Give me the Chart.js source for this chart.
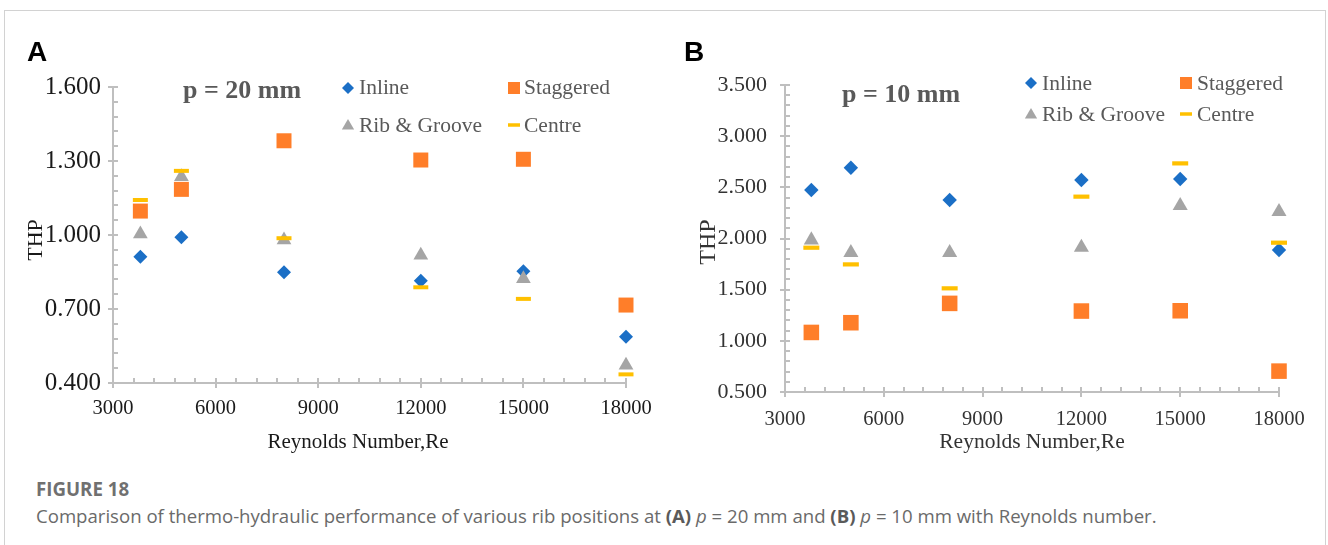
<!DOCTYPE html>
<html>
<head>
<meta charset="utf-8">
<script src="https://cdn.jsdelivr.net/npm/chart.js@4.4.1/dist/chart.umd.min.js"></script>
<style>
  html, body { margin: 0; padding: 0; background: #fff; }
  #page { position: relative; width: 1328px; height: 545px; overflow: hidden; background: #fff; }
  .frame { position: absolute; left: 4px; top: 10px; width: 1322px; height: 600px;
           border: 1px solid #d2d2d2; box-sizing: border-box; }
  canvas { position: absolute; top: 0; }
  .t { position: absolute; white-space: nowrap; }
  .serif { font-family: 'Liberation Serif', 'Times New Roman', serif; }
  .panel { font-family: 'Liberation Sans', Arial, sans-serif; font-weight: 700; font-size: 28px;
           line-height: 28px; color: #000; }
  .pitch { font-weight: 700; font-size: 26px; line-height: 26px; color: #595959; }
  .xtitle { font-size: 21px; line-height: 21px; transform: translateX(-50%); }
  .ytitle { transform: translate(-50%, -50%) rotate(-90deg); }
  .fig { font-family: 'Open Sans', 'Noto Sans', sans-serif; font-weight: 700; font-size: 18.7px;
         line-height: 18.7px; color: #707070; }
  .cap { font-family: 'Open Sans', 'Noto Sans', sans-serif; font-size: 18.6px; line-height: 18.6px;
         color: #6a6a6a; }
  .cap b { color: #5a5a5a; }
</style>
</head>
<body>
<div id="page">
  <div class="frame"></div>
  <canvas id="chartA" width="664" height="470" style="left:0px"></canvas>
  <canvas id="chartB" width="664" height="470" style="left:664px"></canvas>

  <div class="t panel" style="left:27px; top:38px;">A</div>
  <div class="t panel" style="left:684px; top:38px;">B</div>

  <div class="t serif pitch" style="left:183px; top:77px;">p = 20 mm</div>
  <div class="t serif pitch" style="left:842px; top:81px;">p = 10 mm</div>

  <div class="t serif xtitle" style="left:358px; top:431px; color:#1a1a1a;">Reynolds Number,Re</div>
  <div class="t serif xtitle" style="left:1032px; top:431px; color:#333; font-size:21.5px;">Reynolds Number,Re</div>

  <div class="t serif ytitle" style="left:35px; top:240px; font-size:22px; line-height:22px; color:#1a1a1a;">THP</div>
  <div class="t serif ytitle" style="left:707px; top:242px; font-size:24px; line-height:24px; color:#333;">THP</div>

  <div class="t fig" style="left:36px; top:480px;">FIGURE 18</div>
  <div class="t cap" style="left:36px; top:506.5px;">Comparison of thermo-hydraulic performance of various rib positions at <b>(A)</b> <i>p</i> = 20 mm and <b>(B)</b> <i>p</i> = 10 mm with Reynolds number.</div>
</div>

<script>
// Reynolds numbers tested
const reynolds = [3800, 5000, 8000, 12000, 15000, 18000];
const seriesNames = ['Inline', 'Staggered', 'Rib & Groove', 'Centre'];

// Thermo-hydraulic performance, rib pitch p = 20 mm
const inline20    = [0.912, 0.991, 0.849, 0.815, 0.853, 0.588];
const staggered20 = [1.097, 1.185, 1.382, 1.304, 1.307, 0.716];
const ribGroove20 = [1.004, 1.236, 0.980, 0.918, 0.823, 0.472];
const centre20    = [1.142, 1.260, 0.987, 0.788, 0.741, 0.435];

// Thermo-hydraulic performance, rib pitch p = 10 mm
const inline10    = [2.474, 2.692, 2.376, 2.571, 2.581, 1.887];
const staggered10 = [1.082, 1.177, 1.366, 1.291, 1.294, 0.704];
const ribGroove10 = [1.985, 1.861, 1.861, 1.913, 2.320, 2.262];
const centre10    = [1.910, 1.747, 1.513, 2.409, 2.734, 1.959];

// Axis tick labels
const xTickLabels   = ['3000', '6000', '9000', '12000', '15000', '18000'];
const yTickLabels20 = ['0.400', '0.700', '1.000', '1.300', '1.600'];
const yTickLabels10 = ['0.500', '1.000', '1.500', '2.000', '2.500', '3.000', '3.500'];

const AXIS = '#bfbfbf';
const SERIF = "'Liberation Serif', 'Times New Roman', serif";
const STYLES = [
  { color: '#1b6fc6', pointStyle: 'rectRot' },
  { color: '#ff7e29', pointStyle: 'rect' },
  { color: '#a5a5a5', pointStyle: 'triangle' },
  { color: '#ffc000', pointStyle: 'line' }
];

const isLabelled = (labels, v) => labels.some(l => Math.abs(parseFloat(l) - v) < 1e-6);
const labelFor = (labels, v) => {
  const hit = labels.find(l => Math.abs(parseFloat(l) - v) < 1e-6);
  return hit === undefined ? '' : hit;
};

// small tick marks pointing into the plot area at every minor step
const innerTicks = {
  id: 'innerTicks',
  beforeDatasetsDraw(chart, args, opts) {
    const { ctx, chartArea } = chart;
    const xs = chart.scales.x, ys = chart.scales.y;
    ctx.save();
    ctx.strokeStyle = opts.color;
    ctx.lineWidth = opts.width;
    ctx.beginPath();
    xs.ticks.forEach(t => {
      const px = Math.round(xs.getPixelForValue(t.value));
      ctx.moveTo(px, chartArea.bottom);
      ctx.lineTo(px, chartArea.bottom - opts.length);
    });
    ys.ticks.forEach(t => {
      const py = Math.round(ys.getPixelForValue(t.value));
      ctx.moveTo(chartArea.left, py);
      ctx.lineTo(chartArea.left + opts.length, py);
    });
    ctx.stroke();
    ctx.restore();
  }
};

// two-column legend placed inside the plot area
const gridLegend = {
  id: 'gridLegend',
  afterDraw(chart, args, opts) {
    const ctx = chart.ctx;
    ctx.save();
    chart.data.datasets.forEach((ds, i) => {
      const slot = opts.slots[i];
      ctx.fillStyle = ds.pointBackgroundColor;
      ctx.strokeStyle = ds.pointBorderColor;
      ctx.lineWidth = slot.bw;
      Chart.helpers.drawPoint(ctx, {
        pointStyle: ds.pointStyle, rotation: 0, radius: slot.r, borderWidth: slot.bw
      }, slot.mx, slot.my);
      ctx.font = opts.font;
      ctx.fillStyle = opts.color;
      ctx.textAlign = 'left';
      ctx.textBaseline = 'alphabetic';
      ctx.fillText(ds.label, slot.tx, slot.ty);
    });
    ctx.restore();
  }
};

function buildDatasets(seriesValues, sizes) {
  return seriesValues.map((vals, i) => {
    const st = STYLES[i];
    const isDash = st.pointStyle === 'line';
    return {
      label: seriesNames[i],
      data: reynolds.map((re, k) => ({ x: re, y: vals[k] })),
      showLine: false,
      clip: false,
      pointStyle: st.pointStyle,
      pointRadius: sizes[i],
      pointHoverRadius: sizes[i],
      pointBackgroundColor: st.color,
      pointBorderColor: st.color,
      pointBorderWidth: isDash ? sizes.dash : 0,
      order: 4 - i
    };
  });
}

function axisOptions(labels, minorStep, fontSize, color, pad, fitSize, isX) {
  return {
    type: 'linear',
    min: parseFloat(labels[0]),
    max: parseFloat(labels[labels.length - 1]),
    afterFit(scale) { if (isX) scale.height = fitSize; else scale.width = fitSize; },
    ticks: {
      stepSize: minorStep,
      autoSkip: false,
      maxRotation: 0,
      padding: pad,
      color: color,
      font: { family: SERIF, size: fontSize },
      callback: (v) => labelFor(labels, v)
    },
    grid: {
      drawOnChartArea: false,
      drawTicks: true,
      tickLength: 5,
      tickWidth: 2,
      lineWidth: 2,
      color: AXIS,
      tickColor: (c) => (c.tick && isLabelled(labels, c.tick.value)) ? AXIS : 'rgba(0,0,0,0)'
    },
    border: { display: true, color: AXIS, width: 2 }
  };
}

function makeChart(id, cfg) {
  return new Chart(document.getElementById(id), {
    type: 'scatter',
    data: { datasets: buildDatasets(cfg.series, cfg.sizes) },
    options: {
      responsive: false,
      animation: false,
      devicePixelRatio: 1,
      layout: { padding: cfg.padding },
      plugins: {
        legend: { display: false },
        tooltip: { enabled: false },
        innerTicks: { color: AXIS, width: 2, length: 5 },
        gridLegend: { font: "21.5px " + SERIF, color: '#595959', slots: cfg.legendSlots }
      },
      scales: {
        x: axisOptions(xTickLabels, 600, cfg.xFont, cfg.tickColor, cfg.xPad, cfg.xFit, true),
        y: axisOptions(cfg.yLabels, cfg.yMinor, cfg.yFont, cfg.tickColor, cfg.yPad, 100, false)
      }
    },
    plugins: [innerTicks, gridLegend]
  });
}

const sizesA = Object.assign([7, 10.6, 8.5, 7.5], { dash: 4 });
const sizesB = Object.assign([7.2, 11, 8.7, 8], { dash: 4.2 });

makeChart('chartA', {
  series: [inline20, staggered20, ribGroove20, centre20],
  sizes: sizesA,
  yLabels: yTickLabels20, yMinor: 0.06,
  xFont: 20.5, yFont: 25, tickColor: '#1a1a1a',
  xPad: 8, yPad: 7, xFit: 80,
  padding: { left: 13, right: 38, top: 87, bottom: 7 },
  legendSlots: [
    { mx: 348, my: 88,  r: 6,   bw: 0,   tx: 359, ty: 94 },
    { mx: 514, my: 88,  r: 8.5, bw: 0,   tx: 524, ty: 94 },
    { mx: 348, my: 126, r: 7.1, bw: 0,   tx: 359, ty: 131.5 },
    { mx: 514, my: 125, r: 6,   bw: 3.5, tx: 524, ty: 131.5 }
  ]
});

makeChart('chartB', {
  series: [inline10, staggered10, ribGroove10, centre10],
  sizes: sizesB,
  yLabels: yTickLabels10, yMinor: 0.1,
  xFont: 20.5, yFont: 22, tickColor: '#333333',
  xPad: 10, yPad: 13, xFit: 70,
  padding: { left: 21, right: 49, top: 85, bottom: 8 },
  legendSlots: [
    { mx: 367, my: 83,  r: 6,   bw: 0,   tx: 378, ty: 90 },
    { mx: 522, my: 83,  r: 8.5, bw: 0,   tx: 533, ty: 90 },
    { mx: 367, my: 115, r: 7.1, bw: 0,   tx: 378, ty: 121 },
    { mx: 522, my: 114, r: 6,   bw: 3.5, tx: 533, ty: 121 }
  ]
});
</script>
</body>
</html>
